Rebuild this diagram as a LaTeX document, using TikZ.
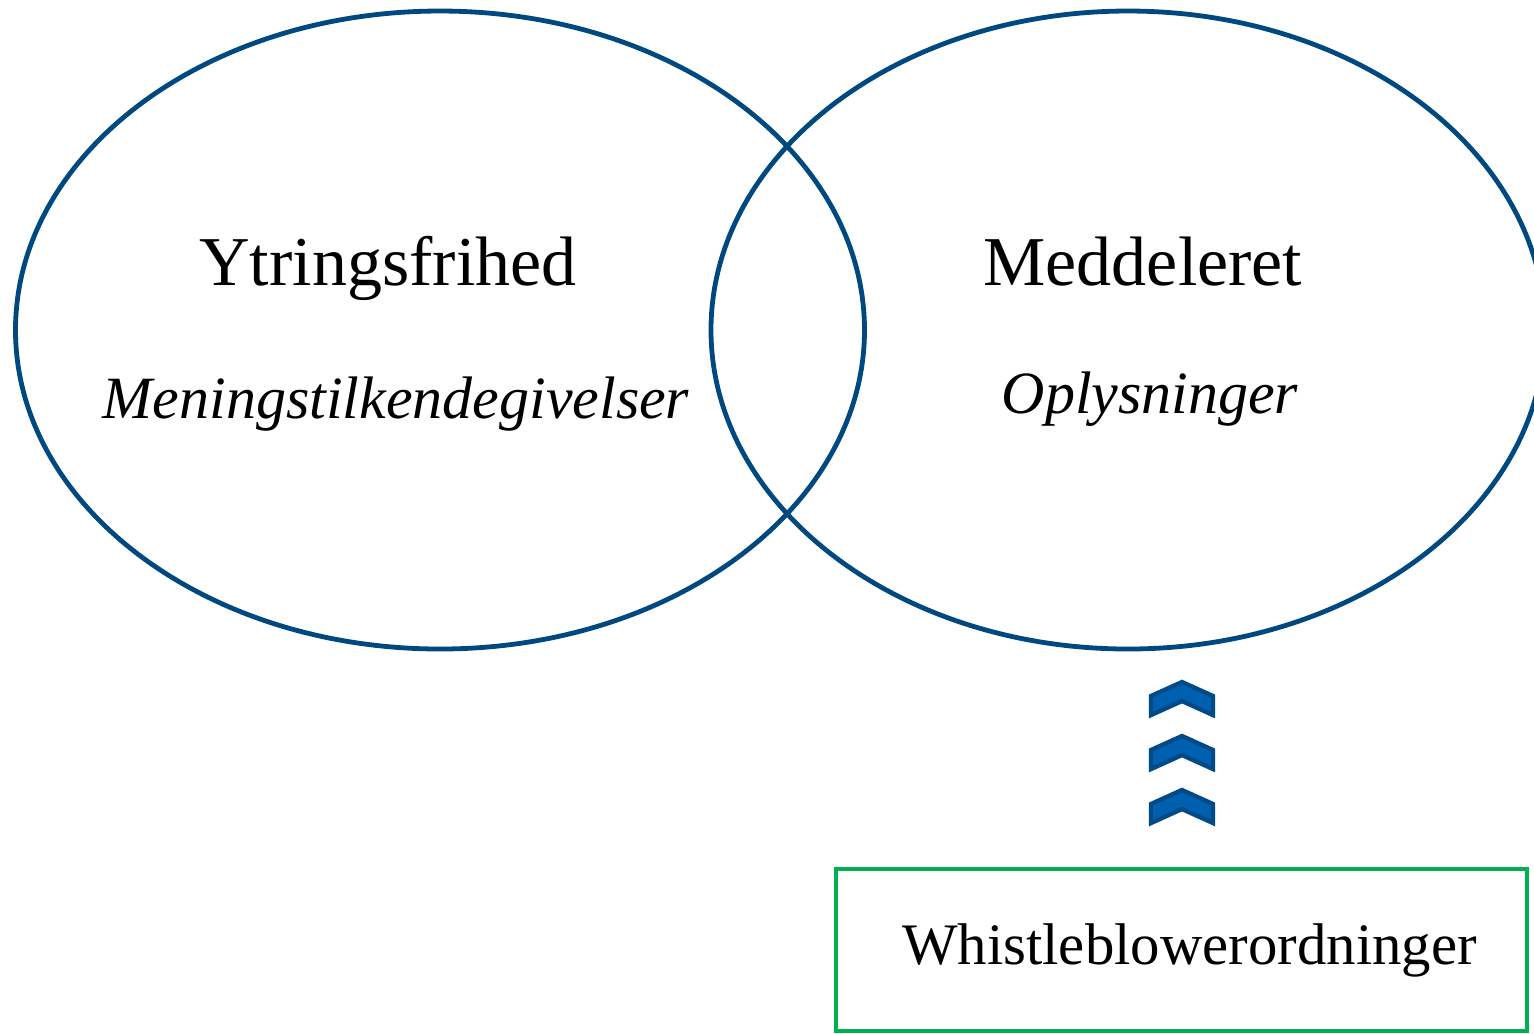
\documentclass[tikz,border=0pt]{standalone}
\usepackage{fontspec}
\setmainfont{Liberation Serif}
\usetikzlibrary{shapes.geometric}
\definecolor{ringblue}{RGB}{0,72,128}
\definecolor{chevfill}{RGB}{0,96,176}
\definecolor{chevline}{RGB}{0,74,136}
\definecolor{boxgreen}{RGB}{0,176,80}
\tikzset{
  ring/.style={draw=ringblue,line width=1.2pt,ellipse,inner sep=0pt,minimum height=159.5pt},
  head/.style={anchor=base,font=\fontsize{17.5}{20}\selectfont},
  sub/.style={anchor=base,font=\fontsize{15}{18}\selectfont\itshape},
  chev/.style={fill=chevfill,draw=chevline,line width=1.1pt,line join=miter}
}
\begin{document}
\begin{tikzpicture}[x=0.25pt,y=-0.25pt]
      \useasboundingbox (0,0) rectangle (1534,1033);
      \def \Labels {
        left/388/Ytringsfrihed/Meningstilkendegivelser/396/418,
        right/1143/Meddeleret/Oplysninger/1150/413}

      \node[ring,minimum width=212.25pt] (left) at (440,330) {};
      \node[ring,minimum width=208.5pt] (right) at (1128,330) {};

      \foreach \id / \x / \head / \sub / \sx / \sy in \Labels {
        \node[head] (\id-head) at (\x,285) {\head};
        \node[sub] (\id-sub) at (\sx,\sy) {\sub};
      }

      \foreach \dy in {0,54,108} {
        \path[chev] (1151,696+\dy) -- (1182,682+\dy) -- (1213,696+\dy)
          -- (1213,715+\dy) -- (1182,701+\dy) -- (1151,715+\dy) -- cycle;
      }

      \node[draw=boxgreen,line width=1.1pt,inner sep=0pt,minimum width=172.75pt,
        minimum height=40.5pt,font=\fontsize{14.7}{17}\selectfont] (box)
        at (1181.5,950) {\hspace*{4pt}Whistleblowerordninger};
    \end{tikzpicture}
\end{document}
